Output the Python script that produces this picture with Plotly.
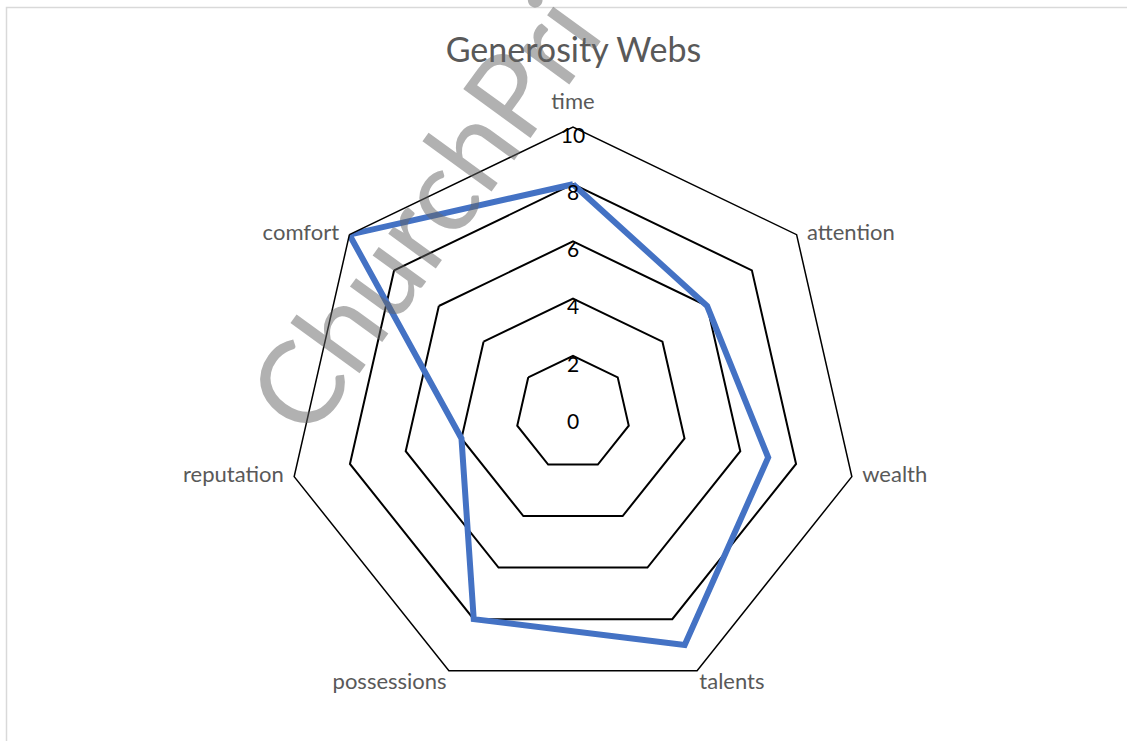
import plotly.graph_objects as go

categories = ["time", "attention", "wealth", "talents", "possessions", "reputation", "comfort"]
values = [8, 6, 7, 9, 8, 4, 10]
tick_vals = [0, 2, 4, 6, 8, 10]
tick_text = ["0", "2", "4", "6", "8", "10"]

# label placement around the web (style only)
label_pos = ["top center", "middle right", "middle right", "bottom right",
             "bottom left", "middle left", "middle left"]
label_gap = [19, 15, 15, 2, 2, 15, 15]

FONT = "Lato"
R_MAX = max(tick_vals)

fig = go.Figure()

# closed loop for the series
fig.add_trace(go.Scatterpolar(
    r=values + values[:1],
    theta=categories + categories[:1],
    mode="lines",
    line=dict(color="#4472C4", width=6),
    hoverinfo="skip",
    showlegend=False,
    subplot="polar",
))

# radial tick labels, drawn along the "time" spoke
fig.add_trace(go.Scatterpolar(
    r=tick_vals,
    theta=[categories[0]] * len(tick_vals),
    mode="text",
    text=tick_text,
    textposition="bottom center",
    textfont=dict(family=FONT, size=21, color="#000000"),
    cliponaxis=False,
    hoverinfo="skip",
    showlegend=False,
    subplot="polar2",
))

# category labels at the outer ring
fig.add_trace(go.Scatterpolar(
    r=[R_MAX] * len(categories),
    theta=categories,
    mode="markers+text",
    text=categories,
    textposition=label_pos,
    marker=dict(size=label_gap, opacity=0, color="white"),
    textfont=dict(family=FONT, size=22, color="#595959"),
    cliponaxis=False,
    hoverinfo="skip",
    showlegend=False,
    subplot="polar2",
))

domain = dict(x=[287 / 1127, 859 / 1127], y=[42 / 741, 614 / 741])
angular_common = dict(
    categoryorder="array",
    categoryarray=categories,
    direction="clockwise",
    rotation=90,
)

fig.update_layout(
    width=1127,
    height=741,
    margin=dict(l=0, r=0, t=0, b=0),
    paper_bgcolor="white",
    plot_bgcolor="white",
    title=dict(
        text="Generosity Webs",
        x=0.5088, xanchor="center", xref="paper",
        y=1 - 50 / 741, yanchor="middle", yref="paper",
        font=dict(family=FONT, size=34, color="#595959"),
    ),
    polar=dict(
        domain=domain,
        bgcolor="white",
        gridshape="linear",
        radialaxis=dict(
            range=[0, R_MAX],
            tickvals=tick_vals[1:],
            showticklabels=False,
            ticks="",
            showline=False,
            showgrid=True,
            gridcolor="#000000",
            gridwidth=1.5,
        ),
        angularaxis=dict(
            **angular_common,
            showgrid=False,
            showline=True,
            linecolor="#000000",
            linewidth=1.5,
            ticks="",
            showticklabels=False,
        ),
    ),
    polar2=dict(
        domain=domain,
        bgcolor="rgba(0,0,0,0)",
        gridshape="circular",
        radialaxis=dict(range=[0, R_MAX], visible=False),
        angularaxis=dict(**angular_common, visible=False),
    ),
    shapes=[dict(
        type="rect", xref="paper", yref="paper",
        x0=6.5 / 1127, x1=1.05, y0=-0.05, y1=1 - 7.5 / 741,
        line=dict(color="#d9d9d9", width=1.5),
        fillcolor="rgba(0,0,0,0)",
        layer="below",
    )],
    annotations=[dict(
        text="ChurchPri",
        xref="paper", yref="paper",
        x=421 / 1127, y=1 - 212 / 741,
        xanchor="center", yanchor="middle",
        textangle=-54,
        showarrow=False,
        font=dict(family=FONT, size=116, color="rgba(100,100,100,0.5)"),
    )],
)

fig.write_html(
    "out.html",
    config={"displayModeBar": False},
    post_script="document.body.style.margin='0';",
)
